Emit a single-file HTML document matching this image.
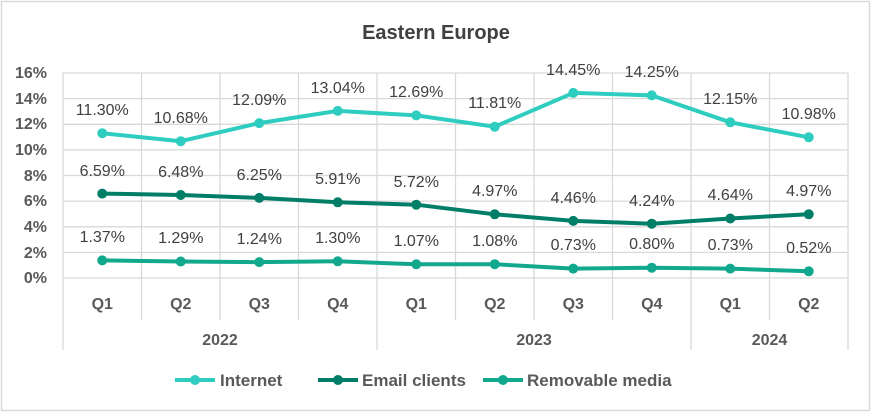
<!DOCTYPE html>
<html><head><meta charset="utf-8"><style>
html,body{margin:0;padding:0;background:#fff}
text{font-family:"Liberation Sans",Calibri,sans-serif}
</style></head><body>
<svg width="872" height="413" viewBox="0 0 872 413" xmlns="http://www.w3.org/2000/svg">
<rect x="1.5" y="1.5" width="868" height="409" fill="#fff" stroke="#d9d9d9" stroke-width="1.5"/>
<text x="436" y="39" text-anchor="middle" font-size="20" font-weight="bold" fill="#404040">Eastern Europe</text>
<g stroke="#d9d9d9" stroke-width="1.3">
<line x1="63" x2="848" y1="73" y2="73"/><line x1="63" x2="848" y1="98.6" y2="98.6"/>
<line x1="63" x2="848" y1="124.3" y2="124.3"/><line x1="63" x2="848" y1="149.9" y2="149.9"/>
<line x1="63" x2="848" y1="175.5" y2="175.5"/><line x1="63" x2="848" y1="201.1" y2="201.1"/>
<line x1="63" x2="848" y1="226.8" y2="226.8"/><line x1="63" x2="848" y1="252.4" y2="252.4"/>
<line x1="63" x2="848" y1="278" y2="278"/>
<line x1="63" x2="63" y1="73" y2="350"/><line x1="141.5" x2="141.5" y1="73" y2="320"/>
<line x1="220" x2="220" y1="73" y2="320"/><line x1="298.5" x2="298.5" y1="73" y2="320"/>
<line x1="377" x2="377" y1="73" y2="350"/><line x1="455.5" x2="455.5" y1="73" y2="320"/>
<line x1="534" x2="534" y1="73" y2="320"/><line x1="612.5" x2="612.5" y1="73" y2="320"/>
<line x1="691" x2="691" y1="73" y2="350"/><line x1="769.5" x2="769.5" y1="73" y2="320"/>
<line x1="848" x2="848" y1="73" y2="350"/>
</g>
<g font-size="16" font-weight="bold" fill="#595959" text-anchor="end">
<text x="47" y="78">16%</text><text x="47" y="104">14%</text><text x="47" y="129">12%</text>
<text x="47" y="155">10%</text><text x="47" y="181">8%</text><text x="47" y="206">6%</text>
<text x="47" y="232">4%</text><text x="47" y="258">2%</text><text x="47" y="283">0%</text>
</g>
<g font-size="16" font-weight="bold" fill="#595959" text-anchor="middle">
<text x="102.25" y="309">Q1</text><text x="180.75" y="309">Q2</text><text x="259.25" y="309">Q3</text>
<text x="337.75" y="309">Q4</text><text x="416.25" y="309">Q1</text><text x="494.75" y="309">Q2</text>
<text x="573.25" y="309">Q3</text><text x="651.75" y="309">Q4</text><text x="730.25" y="309">Q1</text>
<text x="808.75" y="309">Q2</text>
<text x="220" y="345">2022</text><text x="534" y="345">2023</text><text x="769.5" y="345">2024</text>
</g>
<g fill="none" stroke-width="4" stroke-linejoin="round">
<polyline stroke="#2ecdc0" points="102.25,133.2 180.75,141.2 259.25,123.1 337.75,110.9 416.25,115.4 494.75,126.7 573.25,92.9 651.75,95.4 730.25,122.3 808.75,137.3"/>
<polyline stroke="#007e68" points="102.25,193.6 180.75,195 259.25,197.9 337.75,202.3 416.25,204.7 494.75,214.3 573.25,220.9 651.75,223.7 730.25,218.5 808.75,214.3"/>
<polyline stroke="#12a88e" points="102.25,260.4 180.75,261.5 259.25,262.1 337.75,261.3 416.25,264.3 494.75,264.2 573.25,268.6 651.75,267.7 730.25,268.6 808.75,271.3"/>
</g>
<g fill="#2ecdc0"><circle cx="102.25" cy="133.2" r="5"/><circle cx="180.75" cy="141.2" r="5"/><circle cx="259.25" cy="123.1" r="5"/><circle cx="337.75" cy="110.9" r="5"/><circle cx="416.25" cy="115.4" r="5"/><circle cx="494.75" cy="126.7" r="5"/><circle cx="573.25" cy="92.9" r="5"/><circle cx="651.75" cy="95.4" r="5"/><circle cx="730.25" cy="122.3" r="5"/><circle cx="808.75" cy="137.3" r="5"/></g>
<g fill="#007e68"><circle cx="102.25" cy="193.6" r="5"/><circle cx="180.75" cy="195" r="5"/><circle cx="259.25" cy="197.9" r="5"/><circle cx="337.75" cy="202.3" r="5"/><circle cx="416.25" cy="204.7" r="5"/><circle cx="494.75" cy="214.3" r="5"/><circle cx="573.25" cy="220.9" r="5"/><circle cx="651.75" cy="223.7" r="5"/><circle cx="730.25" cy="218.5" r="5"/><circle cx="808.75" cy="214.3" r="5"/></g>
<g fill="#12a88e"><circle cx="102.25" cy="260.4" r="5"/><circle cx="180.75" cy="261.5" r="5"/><circle cx="259.25" cy="262.1" r="5"/><circle cx="337.75" cy="261.3" r="5"/><circle cx="416.25" cy="264.3" r="5"/><circle cx="494.75" cy="264.2" r="5"/><circle cx="573.25" cy="268.6" r="5"/><circle cx="651.75" cy="267.7" r="5"/><circle cx="730.25" cy="268.6" r="5"/><circle cx="808.75" cy="271.3" r="5"/></g>
<g font-size="16" fill="#404040" text-anchor="middle">
<text x="102.25" y="115">11.30%</text><text x="180.75" y="123">10.68%</text><text x="259.25" y="105">12.09%</text><text x="337.75" y="93">13.04%</text><text x="416.25" y="97">12.69%</text><text x="494.75" y="108">11.81%</text><text x="573.25" y="75">14.45%</text><text x="651.75" y="77">14.25%</text><text x="730.25" y="104">12.15%</text><text x="808.75" y="119">10.98%</text>
<text x="102.25" y="176">6.59%</text><text x="180.75" y="177">6.48%</text><text x="259.25" y="180">6.25%</text><text x="337.75" y="184">5.91%</text><text x="416.25" y="187">5.72%</text><text x="494.75" y="196">4.97%</text><text x="573.25" y="203">4.46%</text><text x="651.75" y="206">4.24%</text><text x="730.25" y="200">4.64%</text><text x="808.75" y="196">4.97%</text>
<text x="102.25" y="242">1.37%</text><text x="180.75" y="243">1.29%</text><text x="259.25" y="244">1.24%</text><text x="337.75" y="243">1.30%</text><text x="416.25" y="246">1.07%</text><text x="494.75" y="246">1.08%</text><text x="573.25" y="250">0.73%</text><text x="651.75" y="249">0.80%</text><text x="730.25" y="250">0.73%</text><text x="808.75" y="253">0.52%</text>
</g>
<g stroke-width="4">
<line x1="175" x2="215" y1="380" y2="380" stroke="#2ecdc0"/><circle cx="195" cy="380" r="5" fill="#2ecdc0"/>
<line x1="318" x2="358" y1="380" y2="380" stroke="#007e68"/><circle cx="338" cy="380" r="5" fill="#007e68"/>
<line x1="483" x2="523" y1="380" y2="380" stroke="#12a88e"/><circle cx="503" cy="380" r="5" fill="#12a88e"/>
</g>
<g font-size="17" font-weight="bold" fill="#595959">
<text x="220" y="386">Internet</text><text x="362" y="386">Email clients</text><text x="527" y="386">Removable media</text>
</g>
</svg>
</body></html>
